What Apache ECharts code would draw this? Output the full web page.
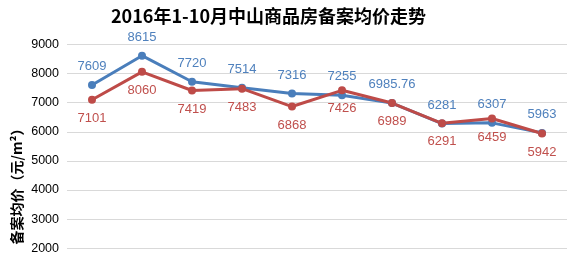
<!DOCTYPE html>
<html><head><meta charset="utf-8">
<script src="https://cdn.jsdelivr.net/npm/echarts@6/dist/echarts.min.js"></script>
<style>html,body{margin:0;padding:0;background:#fff}#c{width:569px;height:262px}</style>
</head><body><div id="c"></div>
<script>
const months = ['1月','2月','3月','4月','5月','6月','7月','8月','9月','10月'];
const blueValues = [7609, 8615, 7720, 7514, 7316, 7255, 6985.76, 6281, 6307, 5963];
const redValues = [7101, 8060, 7419, 7483, 6868, 7426, 6989, 6291, 6459, 5942];
const yTicks = [1000, 9000, 1000]; // min, max, interval

const chart = echarts.init(document.getElementById('c'));
const labelFont = {fontFamily: 'Liberation Sans', fontSize: 13};
chart.setOption({
  animation: false,
  backgroundColor: '#fff',
  title: {
    text: '2016年1-10月中山商品房备案均价走势',
    left: 106, top: 2,
    textStyle: {fontFamily: 'Noto Sans CJK SC', fontWeight: 'bold', fontSize: 18, color: '#000'}
  },
  graphic: [{
    type: 'text', x: 17, y: 183, rotation: Math.PI / 2,
    style: {text: '备案均价（元/m²）', fill: '#000', font: 'bold 14px "Noto Sans CJK SC"', align: 'center', verticalAlign: 'middle'}
  }],
  grid: {left: 67, right: 2, top: 44.5, height: 232.8, containLabel: false, outerBoundsMode: 'none'},
  xAxis: {
    type: 'category', data: months, boundaryGap: true,
    axisLine: {show: false}, axisTick: {show: false}, axisLabel: {show: false}
  },
  yAxis: {
    type: 'value', min: yTicks[0], max: yTicks[1], interval: yTicks[2],
    axisLine: {show: false}, axisTick: {show: false},
    axisLabel: {margin: 8, color: '#000', fontFamily: 'Liberation Sans', fontSize: 12.5, formatter: v => String(v)},
    splitLine: {lineStyle: {color: '#d9d9d9', width: 1}}
  },
  series: [{
    type: 'line', data: blueValues, symbol: 'circle', symbolSize: 8,
    lineStyle: {color: '#4A7EBB', width: 3}, itemStyle: {color: '#4A7EBB'},
    label: {show: true, position: 'top', distance: 8, color: '#4F81BD', ...labelFont}
  }, {
    type: 'line', data: redValues, symbol: 'circle', symbolSize: 8,
    lineStyle: {color: '#BE4B48', width: 3}, itemStyle: {color: '#BE4B48'},
    label: {show: true, position: 'bottom', distance: 8, color: '#C0504D', ...labelFont}
  }]
});
</script></body></html>
